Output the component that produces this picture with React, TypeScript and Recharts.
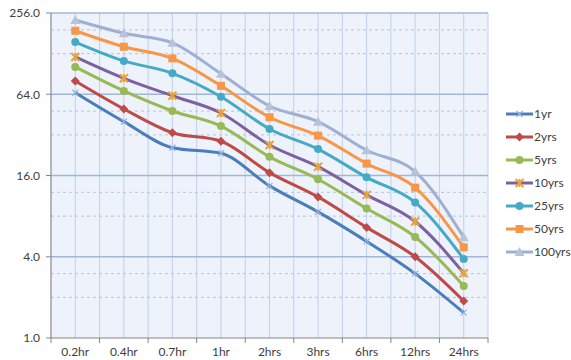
import { LineChart, Line, XAxis, YAxis, CartesianGrid, ReferenceLine } from 'recharts';

const categories = ['0.2hr', '0.4hr', '0.7hr', '1hr', '2hrs', '3hrs', '6hrs', '12hrs', '24hrs'];

const yr1 = [65.7, 40.1, 25.7, 23.4, 13.4, 8.6, 5.2, 3.0, 1.54];
const yrs2 = [80.2, 49.8, 33.2, 28.7, 16.8, 11.1, 6.6, 4.0, 1.88];
const yrs5 = [102, 67.7, 48.1, 37.2, 22.0, 15.0, 9.1, 5.6, 2.43];
const yrs10 = [121, 84.0, 62.4, 46.5, 26.9, 18.6, 11.5, 7.3, 3.02];
const yrs25 = [156, 113, 91.5, 61.4, 35.4, 25.1, 15.5, 10.1, 3.85];
const yrs50 = [189, 144, 118, 73.9, 43.2, 31.6, 19.6, 13.0, 4.7];
const yrs100 = [227, 181, 154, 90.9, 52.4, 40.1, 24.6, 17.1, 5.57];

const yTicks = [1, 4, 16, 64, 256];
const majorLines = [4, 16, 64, 256];
const minorLines = [2, 3, 8, 12, 32, 48, 128, 192];

const series = [
  { key: '1yr', values: yr1, color: '#4a7ebb', marker: 'x' },
  { key: '2yrs', values: yrs2, color: '#be4b48', marker: 'diamond' },
  { key: '5yrs', values: yrs5, color: '#98b954', marker: 'circle' },
  { key: '10yrs', values: yrs10, color: '#7d60a0', marker: 'star' },
  { key: '25yrs', values: yrs25, color: '#46aac5', marker: 'circle' },
  { key: '50yrs', values: yrs50, color: '#f79646', marker: 'square' },
  { key: '100yrs', values: yrs100, color: '#9db0d4', marker: 'triangle' },
];

const data = categories.map((c, i) => {
  const row: Record<string, any> = { name: c };
  series.forEach((s) => (row[s.key] = s.values[i]));
  return row;
});

const W = 571;
const H = 360;
const M = { top: 13, right: 83, bottom: 0, left: 0 };
const Y_W = 51;
const PLOT_W = W - M.right - Y_W;
const BAND = PLOT_W / categories.length;
const FONT = 'Lato, "Open Sans", sans-serif';

function Marker({ cx, cy, kind, color }: { cx: number; cy: number; kind: string; color: string }) {
  if (cx == null || cy == null) return null;
  switch (kind) {
    case 'x':
      return (
        <g stroke="#8fb1de" strokeWidth={1.2}>
          <line x1={cx - 3} y1={cy - 3} x2={cx + 3} y2={cy + 3} />
          <line x1={cx - 3} y1={cy + 3} x2={cx + 3} y2={cy - 3} />
        </g>
      );
    case 'diamond':
      return <polygon points={`${cx},${cy - 4.5} ${cx + 4.5},${cy} ${cx},${cy + 4.5} ${cx - 4.5},${cy}`} fill={color} />;
    case 'circle':
      return <circle cx={cx} cy={cy} r={4} fill={color} />;
    case 'star':
      return (
        <g stroke="#e8a33a" strokeWidth={2}>
          <line x1={cx - 4} y1={cy - 4} x2={cx + 4} y2={cy + 4} />
          <line x1={cx - 4} y1={cy + 4} x2={cx + 4} y2={cy - 4} />
          <line x1={cx} y1={cy - 4} x2={cx} y2={cy + 4} />
        </g>
      );
    case 'square':
      return <rect x={cx - 4} y={cy - 4} width={8} height={8} fill={color} />;
    case 'triangle':
      return <polygon points={`${cx},${cy - 5} ${cx + 5},${cy + 4} ${cx - 5},${cy + 4}`} fill="#b7c3d8" />;
    default:
      return null;
  }
}

function XTick({ x, y, payload, index }: any) {
  return (
    <g>
      {index === 0 && <line x1={x - BAND / 2} y1={y} x2={x - BAND / 2} y2={y + 5} stroke="#868686" />}
      <line x1={x + BAND / 2} y1={y} x2={x + BAND / 2} y2={y + 5} stroke="#868686" />
      <text x={x} y={y + 18} textAnchor="middle" fill="#404040" fontSize={12} fontFamily={FONT}>
        {payload.value}
      </text>
    </g>
  );
}

function LegendBox() {
  return (
    <div style={{ position: 'absolute', left: 506, top: 102, width: 65, display: 'flex', flexDirection: 'column' }}>
      {series.map((s) => (
        <div key={s.key} style={{ display: 'flex', alignItems: 'center', height: 23 }}>
          <svg width={27} height={12}>
            <line x1={0} y1={6} x2={27} y2={6} stroke={s.color} strokeWidth={3} />
            <Marker cx={13.5} cy={6} kind={s.marker} color={s.color} />
          </svg>
          <span style={{ fontSize: 12, fontFamily: FONT, color: '#404040', marginLeft: 1 }}>{s.key}</span>
        </div>
      ))}
    </div>
  );
}

export default function App() {
  return (
    <div style={{ position: 'absolute', left: 0, top: 0, width: W, height: H, background: '#fff' }}>
      <LineChart width={W} height={H} data={data} margin={M}>
        <CartesianGrid
          fill="#edf2fb"
          horizontal={false}
          stroke="#c2d0ea"
          verticalCoordinatesGenerator={({ offset }: any) =>
            Array.from({ length: categories.length * 2 + 1 }, (_, i) => offset.left + (i * offset.width) / (categories.length * 2))
          }
        />
        {minorLines.map((v) => (
          <ReferenceLine key={'m' + v} y={v} stroke="#b9c5da" strokeDasharray="3 3" />
        ))}
        {majorLines.map((v) => (
          <ReferenceLine key={'M' + v} y={v} stroke="#a4b6d8" strokeWidth={1.5} />
        ))}
        <XAxis
          dataKey="name"
          height={22}
          padding={{ left: BAND / 2, right: BAND / 2 }}
          tickSize={0}
          tickMargin={0}
          tickLine={false}
          axisLine={{ stroke: '#868686' }}
          tick={<XTick />}
          interval={0}
        />
        <YAxis
          scale="log"
          domain={[1, 256]}
          ticks={yTicks}
          width={Y_W}
          tickSize={5}
          tickMargin={6}
          allowDataOverflow
          axisLine={{ stroke: '#868686' }}
          tickLine={{ stroke: '#868686' }}
          tickFormatter={(v: number) => v.toFixed(1)}
          tick={{ fill: '#404040', fontSize: 12, fontFamily: FONT }}
        />
        {series.map((s) => (
          <Line
            key={s.key}
            dataKey={s.key}
            type="monotone"
            stroke={s.color}
            strokeWidth={3}
            isAnimationActive={false}
            dot={(p: any) => <Marker key={s.key + p.index} cx={p.cx} cy={p.cy} kind={s.marker} color={s.color} />}
            activeDot={false}
          />
        ))}
      </LineChart>
      <LegendBox />
    </div>
  );
}
